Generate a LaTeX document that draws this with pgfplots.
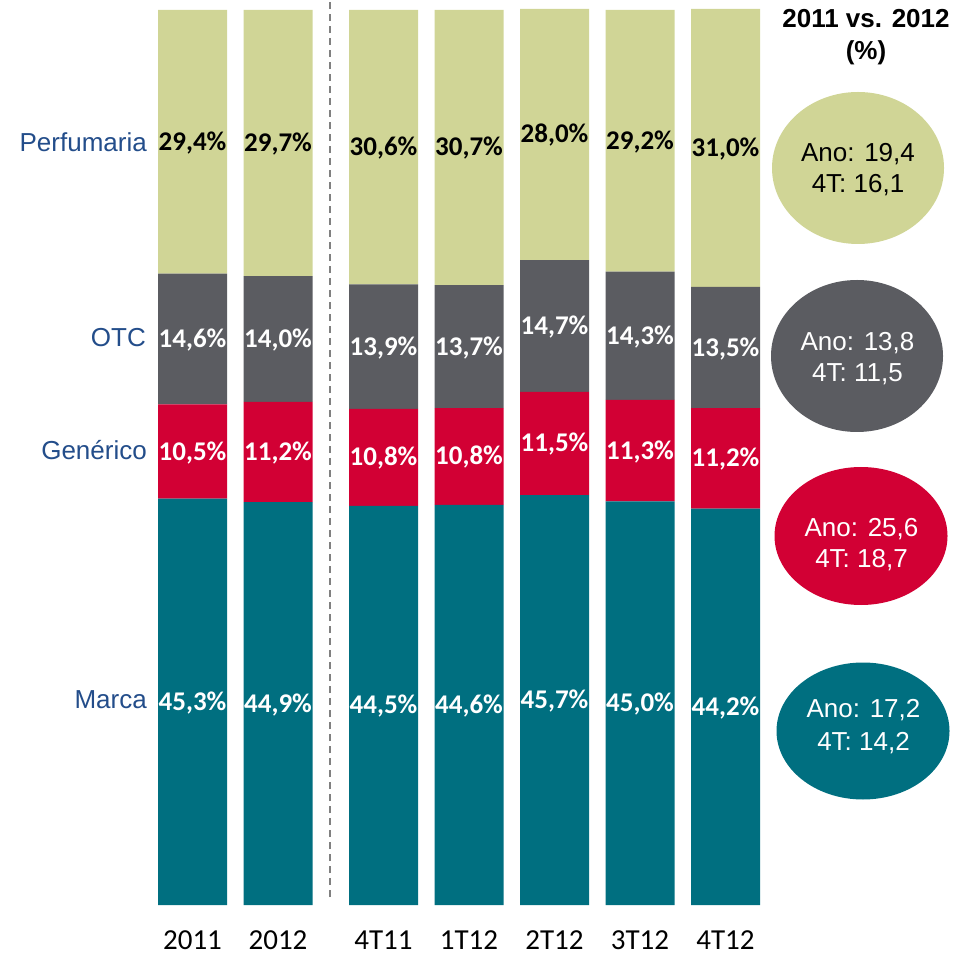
\documentclass[border=0pt]{standalone}
\usepackage{pgfplots}
\pgfplotsset{compat=1.18}
\usepackage{fontspec}
\setmainfont{Liberation Sans}
\newfontfamily\calibri{Carlito}
\usetikzlibrary{shapes.geometric}
\definecolor{perf}{RGB}{208,213,150}
\definecolor{otc}{RGB}{91,92,97}
\definecolor{gen}{RGB}{210,0,52}
\definecolor{marca}{RGB}{0,111,128}
\definecolor{catblue}{RGB}{35,77,138}
\definecolor{dashgray}{RGB}{128,128,128}
\pgfplotsset{
  base/.style={at={(0pt,51pt)}, anchor=south west,
    scale only axis, width=957pt, height=905pt,
    xmin=-2.2515, xmax=8.9415, ymin=0, ymax=100.892,
    enlargelimits=false, clip=false},
  vlab/.style={draw=none, mark=none, point meta=explicit symbolic,
    nodes near coords={\pgfplotspointmeta\%},
    nodes near coords align=center,
    every node near coord/.append style={anchor=base, yshift=-8.5pt, inner sep=0pt,
      font=\calibri\bfseries\fontsize{27}{27}\selectfont, text=#1}},
}
\begin{document}
\begin{tikzpicture}
\begin{axis}[base,
  ybar stacked, bar width=69pt,
  axis line style={draw=none}, tick style={draw=none},
  ytick=\empty,
  xtick={0,1,2.234,3.234,4.234,5.234,6.234},
  xticklabels={2011,2012,4T11,1T12,2T12,3T12,4T12},
  xticklabel style={font=\calibri\fontsize{29}{29}\selectfont, anchor=base, yshift=-44pt, inner sep=0pt},
]
\addplot[fill=marca, draw=none] coordinates {(0,45.3) (1,44.9) (2.234,44.5) (3.234,44.6) (4.234,45.7) (5.234,45.0) (6.234,44.2)};
\addplot[fill=gen, draw=none] coordinates {(0,10.5) (1,11.2) (2.234,10.8) (3.234,10.8) (4.234,11.5) (5.234,11.3) (6.234,11.2)};
\addplot[fill=otc, draw=none] coordinates {(0,14.6) (1,14.0) (2.234,13.9) (3.234,13.7) (4.234,14.7) (5.234,14.3) (6.234,13.5)};
\addplot[fill=perf, draw=none] coordinates {(0,29.4) (1,29.7) (2.234,30.6) (3.234,30.7) (4.234,28.0) (5.234,29.2) (6.234,31.0)};
\end{axis}
\begin{axis}[base, hide axis]
\addplot[vlab=white] table[meta=lab] {
x y lab
0 22.65 45,3
1 22.45 44,9
2.234 22.25 44,5
3.234 22.3 44,6
4.234 22.85 45,7
5.234 22.5 45,0
6.234 22.1 44,2
0 50.55 10,5
1 50.5 11,2
2.234 49.9 10,8
3.234 50.0 10,8
4.234 51.45 11,5
5.234 50.65 11,3
6.234 49.8 11,2
0 63.1 14,6
1 63.1 14,0
2.234 62.25 13,9
3.234 62.25 13,7
4.234 64.55 14,7
5.234 63.45 14,3
6.234 62.15 13,5
};
\addplot[vlab=black] table[meta=lab] {
x y lab
0 85.1 29,4
1 84.95 29,7
2.234 84.5 30,6
3.234 84.45 30,7
4.234 85.9 28,0
5.234 85.2 29,2
6.234 84.4 31,0
};
\end{axis}
% category labels
\begin{scope}[every node/.style={anchor=base east, inner sep=0pt, text=catblue, font=\fontsize{26}{26}\selectfont}]
\node at (147pt,{(956-152)*1pt}) {Perfumaria};
\node at (146pt,{(956-347)*1pt}) {OTC};
\node at (147pt,{(956-460)*1pt}) {Genérico};
\node at (147pt,{(956-708)*1pt}) {Marca};
\end{scope}
% dashed separator
\draw[dashgray, line width=1.6pt, dash pattern=on 7pt off 5pt] (330pt,59pt) -- (330pt,956pt);
% header
\begin{scope}[every node/.style={anchor=base, inner sep=0pt, font=\bfseries\fontsize{26}{26}\selectfont}]
\node at (866pt,{(956-28)*1pt}) {2011 vs. 2012};
\node at (866pt,{(956-60)*1pt}) {(\%)};
\end{scope}
% ellipses
\node[ellipse, fill=perf, minimum width=172pt, minimum height=152pt, inner sep=0pt] at (858pt,{(956-168)*1pt}) {};
\node[ellipse, fill=otc, minimum width=172pt, minimum height=152pt, inner sep=0pt] at (857pt,{(956-356)*1pt}) {};
\node[ellipse, fill=gen, minimum width=173pt, minimum height=138pt, inner sep=0pt] at (861pt,{(956-536)*1pt}) {};
\node[ellipse, fill=marca, minimum width=173pt, minimum height=137pt, inner sep=0pt] at (863pt,{(956-731)*1pt}) {};
\begin{scope}[every node/.style={anchor=base, inner sep=0pt, font=\fontsize{26}{26}\selectfont}]
\node[text=black] at (858pt,{(956-162)*1pt}) {Ano: 19,4};
\node[text=black] at (858pt,{(956-193)*1pt}) {4T: 16,1};
\node[text=white] at (857.5pt,{(956-351)*1pt}) {Ano: 13,8};
\node[text=white] at (857.5pt,{(956-382)*1pt}) {4T: 11,5};
\node[text=white] at (861.5pt,{(956-537)*1pt}) {Ano: 25,6};
\node[text=white] at (861.5pt,{(956-568)*1pt}) {4T: 18,7};
\node[text=white] at (863.5pt,{(956-717)*1pt}) {Ano: 17,2};
\node[text=white] at (863.5pt,{(956-750)*1pt}) {4T: 14,2};
\end{scope}
\pgfresetboundingbox
\useasboundingbox (0,0) rectangle (957pt,956pt);
\end{tikzpicture}
\end{document}
